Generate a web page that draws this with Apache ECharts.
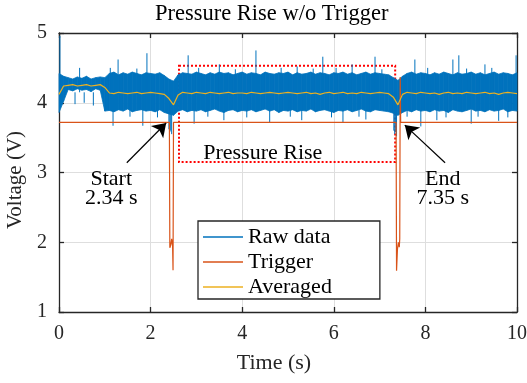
<!DOCTYPE html>
<html>
<head>
<meta charset="utf-8">
<script src="https://cdn.jsdelivr.net/npm/echarts@6/dist/echarts.min.js"></script>
<style>
  html, body { margin: 0; padding: 0; background: #fff; }
  #chart { width: 527px; height: 383px; }
</style>
</head>
<body>
<div id="chart"></div>
<script>
// raw signal envelope, sampled every 0.1 s from 0 to 10 s
const rawHigh = [
  4.42, 4.38, 4.36, 4.34, 4.37, 4.35, 4.38, 4.34, 4.36, 4.37, 4.36,
  4.42, 4.44, 4.40, 4.43, 4.41, 4.44, 4.42, 4.40, 4.43, 4.42,
  4.41, 4.43, 4.39, 4.34, 4.31, 4.40, 4.43, 4.42, 4.41, 4.44,
  4.42, 4.40, 4.43, 4.41, 4.44, 4.42, 4.43, 4.40, 4.42, 4.44,
  4.41, 4.43, 4.42, 4.40, 4.44, 4.42, 4.41, 4.43, 4.42, 4.44,
  4.40, 4.43, 4.41, 4.42, 4.44, 4.41, 4.43, 4.42, 4.40, 4.43,
  4.42, 4.44, 4.41, 4.43, 4.40, 4.42, 4.44, 4.41, 4.43, 4.42,
  4.41, 4.40, 4.36, 4.32, 4.38, 4.42, 4.44, 4.41, 4.43, 4.42,
  4.40, 4.43, 4.41, 4.44, 4.42, 4.40, 4.43, 4.41, 4.42, 4.44,
  4.41, 4.43, 4.40, 4.42, 4.44, 4.41, 4.43, 4.42, 4.40, 4.43
];
const rawLow = [
  3.86, 4.02, 4.19, 4.17, 4.20, 4.18, 4.19, 4.16, 4.20, 4.18, 3.88,
  3.89, 3.87, 3.90, 3.88, 3.91, 3.87, 3.89, 3.90, 3.88, 3.89,
  3.87, 3.90, 3.86, 3.84, 3.82, 3.88, 3.90, 3.87, 3.89, 3.88,
  3.90, 3.87, 3.89, 3.91, 3.88, 3.86, 3.89, 3.90, 3.87, 3.89,
  3.88, 3.90, 3.87, 3.89, 3.91, 3.88, 3.90, 3.86, 3.89, 3.88,
  3.90, 3.87, 3.89, 3.88, 3.91, 3.87, 3.89, 3.90, 3.88, 3.86,
  3.89, 3.88, 3.90, 3.87, 3.89, 3.91, 3.88, 3.87, 3.90, 3.89,
  3.88, 3.87, 3.85, 3.82, 3.86, 3.89, 3.87, 3.90, 3.88, 3.89,
  3.87, 3.90, 3.88, 3.89, 3.86, 3.90, 3.88, 3.87, 3.89, 3.91,
  3.88, 3.89, 3.87, 3.90, 3.88, 3.89, 3.91, 3.87, 3.89, 3.88
];
// averaged signal, same 0.1 s sampling
const averaged = [
  4.12, 4.24, 4.25, 4.26, 4.24, 4.25, 4.26, 4.24, 4.25, 4.26, 4.22,
  4.14, 4.13, 4.15, 4.14, 4.13, 4.14, 4.15, 4.13, 4.14, 4.15,
  4.14, 4.13, 4.12, 4.06, 3.97, 4.11, 4.15, 4.14, 4.13, 4.15,
  4.14, 4.13, 4.15, 4.14, 4.13, 4.14, 4.15, 4.13, 4.14, 4.14,
  4.13, 4.15, 4.14, 4.13, 4.14, 4.15, 4.14, 4.13, 4.14, 4.15,
  4.14, 4.13, 4.14, 4.15, 4.13, 4.14, 4.12, 4.14, 4.15, 4.13,
  4.14, 4.15, 4.13, 4.14, 4.13, 4.15, 4.14, 4.13, 4.14, 4.15,
  4.14, 4.13, 4.08, 3.97, 4.12, 4.15, 4.14, 4.13, 4.15, 4.14,
  4.13, 4.14, 4.12, 4.14, 4.15, 4.13, 4.14, 4.13, 4.15, 4.14,
  4.13, 4.14, 4.15, 4.13, 4.14, 4.12, 4.14, 4.15, 4.14, 4.13
];
// isolated raw-data spikes [time, voltage]
const rawSpikes = [
  [0.02, 4.96], [0.35, 3.98], [0.45, 4.50], [0.55, 4.00], [0.75, 3.96],
  [1.18, 3.67], [1.29, 4.62], [1.83, 3.67], [1.92, 4.71], [2.40, 3.62],
  [2.42, 3.58], [2.44, 3.60], [2.46, 3.55], [2.82, 4.68], [2.95, 3.70],
  [3.50, 4.55], [3.60, 3.75], [4.30, 4.75], [4.60, 3.72], [5.20, 4.52],
  [5.30, 3.75], [5.76, 4.66], [6.20, 3.72], [6.40, 4.55], [6.70, 3.76],
  [6.90, 4.66], [7.31, 3.60], [7.33, 3.55], [7.35, 3.58], [7.37, 3.52],
  [7.77, 4.62], [7.90, 3.66], [8.25, 3.75], [8.60, 4.62], [8.73, 4.68],
  [9.00, 3.70], [9.30, 4.55], [9.60, 3.74], [9.98, 4.68],
  [1.12, 4.50], [1.55, 3.80], [1.70, 4.49], [2.15, 3.79], [3.05, 4.50],
  [3.25, 3.80], [3.85, 4.48], [4.10, 3.79], [4.85, 4.50], [5.05, 3.80],
  [5.55, 4.49], [5.95, 3.79], [6.05, 4.50], [6.55, 3.80], [7.05, 4.48],
  [7.60, 3.80], [8.05, 4.50], [8.45, 3.79], [8.90, 4.49], [9.15, 3.80],
  [9.45, 4.50], [9.80, 3.79]
];
// trigger signal [time, voltage]
const trigger = [
  [0, 3.72], [2.41, 3.72], [2.42, 1.92], [2.44, 1.96], [2.46, 2.05], [2.48, 1.95],
  [2.49, 1.60], [2.50, 3.72], [7.36, 3.72], [7.37, 1.59], [7.39, 1.90], [7.41, 2.00],
  [7.43, 1.93], [7.44, 2.05], [7.45, 4.37], [7.46, 3.72], [10, 3.72]
];
const xTicks = { min: 0, max: 10, interval: 2 };
const yTicks = { min: 1, max: 5, interval: 1 };

const time = rawHigh.map((_, i) => +(i * 0.1).toFixed(1));
const font = 'Liberation Serif';
const ink = '#262626';
const blue = '#0072BD', orange = '#D95319', yellow = '#EDB120';

const chart = echarts.init(document.getElementById('chart'));

const mainAxis = (pos) => ({
  type: 'value',
  position: pos,
  axisLine: { show: true, onZero: false, lineStyle: { color: ink, width: 1.3 } },
  axisTick: { show: true, inside: true, length: 5, lineStyle: { color: ink, width: 1.3 } },
  splitLine: { show: true, lineStyle: { color: '#dedede', width: 1 } },
  axisLabel: { color: ink, fontFamily: font, fontSize: 20, margin: 12 }
});
const boxAxis = (pos) => ({
  type: 'value',
  position: pos,
  axisLine: { show: true, onZero: false, lineStyle: { color: ink, width: 1.3 } },
  axisTick: { show: true, inside: true, length: 5, lineStyle: { color: ink, width: 1.3 } },
  splitLine: { show: false },
  axisLabel: { show: false }
});

chart.setOption({
  animation: false,
  backgroundColor: '#fff',
  grid: { left: 59, right: 10, top: 33, bottom: 71, outerBoundsMode: 'none', containLabel: false },
  graphic: [{
    type: 'text', left: 155, top: 3,
    style: { text: 'Pressure Rise w/o Trigger', font: '22.5px "Liberation Serif"', fill: '#000' }
  }],
  legend: {
    data: ['Raw data', 'Trigger', 'Averaged'],
    orient: 'vertical',
    left: 198, top: 221,
    icon: 'rect', itemWidth: 40, itemHeight: 1.5, itemGap: 1,
    padding: [4, 48, 0, 5],
    backgroundColor: '#fff',
    borderColor: ink, borderWidth: 1.3,
    textStyle: { fontFamily: font, fontSize: 22, color: '#000', lineHeight: 24 }
  },
  xAxis: [
    Object.assign(mainAxis('bottom'), xTicks, {
      name: 'Time (s)', nameLocation: 'middle', nameGap: 40,
      nameTextStyle: { fontFamily: font, fontSize: 22, color: ink, padding: [0, 28, 0, 0] }
    }),
    Object.assign(boxAxis('top'), xTicks)
  ],
  yAxis: [
    Object.assign(mainAxis('left'), yTicks, {
      name: 'Voltage (V)', nameLocation: 'middle', nameGap: 27,
      nameTextStyle: { fontFamily: font, fontSize: 21, color: ink, padding: [0, 15, 0, 0] }
    }),
    Object.assign(boxAxis('right'), yTicks)
  ],
  series: [
    {
      // dense raw band: one filled quad between consecutive envelope samples
      name: 'Raw data', type: 'custom', z: 2, color: blue,
      data: time.map((t, i) => [t, rawLow[i], rawHigh[i]]),
      renderItem: (params, api) => {
        const i = params.dataIndex;
        if (i >= time.length - 1) return null;
        const a = api.coord([time[i], rawHigh[i]]);
        const b = api.coord([time[i + 1], rawHigh[i + 1]]);
        const c = api.coord([time[i + 1], rawLow[i + 1]]);
        const d = api.coord([time[i], rawLow[i]]);
        return {
          type: 'polygon',
          shape: { points: [a, b, c, d] },
          style: { fill: blue, stroke: blue, lineWidth: 0.8 }
        };
      }
    },
    {
      name: 'Raw data', type: 'custom', z: 2, color: blue,
      data: rawSpikes,
      renderItem: (params, api) => {
        const p0 = api.coord([api.value(0), 4.15]);
        const p1 = api.coord([api.value(0), api.value(1)]);
        return {
          type: 'line',
          shape: { x1: p0[0], y1: p0[1], x2: p1[0], y2: p1[1] },
          style: { stroke: blue, lineWidth: 1 }
        };
      }
    },
    {
      name: 'Trigger', type: 'line', z: 3, color: orange,
      data: trigger, symbol: 'none', lineStyle: { color: orange, width: 1.2 }
    },
    {
      name: 'Averaged', type: 'line', z: 4, color: yellow,
      data: time.map((t, i) => [t, averaged[i]]),
      symbol: 'none', lineStyle: { color: yellow, width: 1.2 }
    },
    {
      name: 'annotations', type: 'line', z: 5, data: [],
      markArea: {
        silent: true,
        itemStyle: { color: 'rgba(0,0,0,0)', borderColor: '#ff0000', borderWidth: 2, borderType: [2, 2] },
        data: [[{ coord: [2.62, 4.53] }, { coord: [7.34, 3.15] }]]
      },
      markLine: {
        silent: true,
        symbol: ['none', 'arrow'], symbolSize: 13,
        lineStyle: { color: '#000', width: 1.2, type: 'solid' },
        label: { show: false },
        data: [
          [{ coord: [1.48, 3.14] }, { coord: [2.34, 3.71] }],
          [{ coord: [8.43, 3.14] }, { coord: [7.55, 3.68] }]
        ]
      },
      markPoint: {
        silent: true,
        symbol: 'circle', symbolSize: 0,
        label: { show: true, position: 'inside', formatter: '{b}', fontFamily: font, fontSize: 22, color: '#000' },
        data: [
          { name: 'Start', coord: [1.14, 2.91] },
          { name: '2.34 s', coord: [1.14, 2.63] },
          { name: 'End', coord: [8.38, 2.91] },
          { name: '7.35 s', coord: [8.38, 2.63] },
          { name: 'Pressure Rise', coord: [4.45, 3.28] }
        ]
      }
    }
  ]
});
</script>
</body>
</html>
